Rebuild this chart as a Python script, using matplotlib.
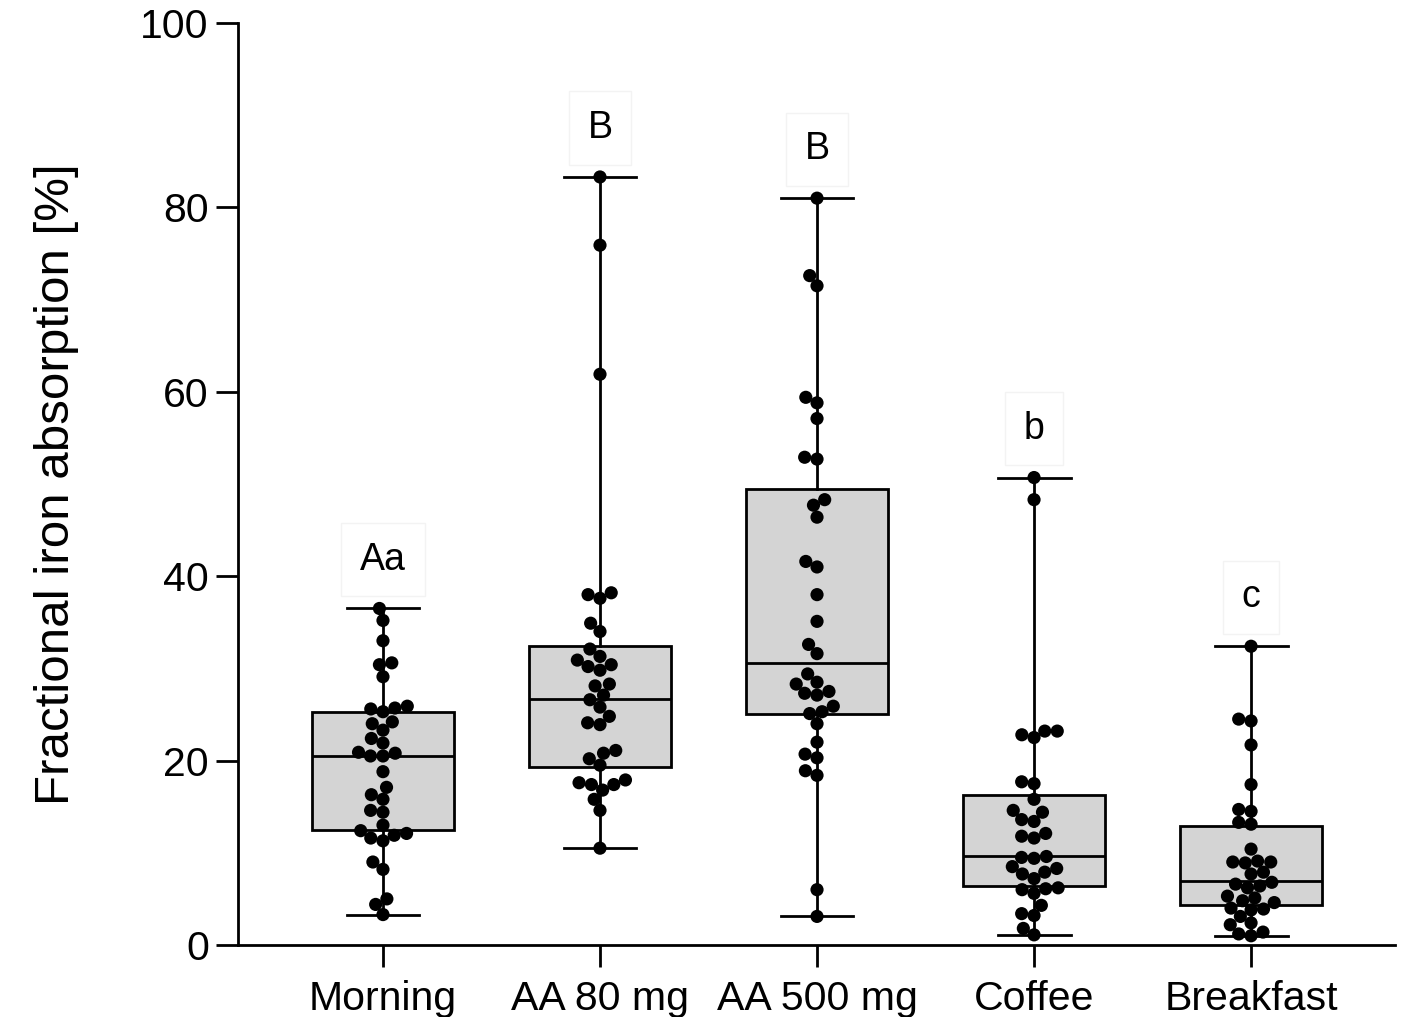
#!/usr/bin/env python3

# Fractional iron absorption per condition: min-max box plots with
# individual participants drawn as a beeswarm on top.

import numpy as np
import matplotlib
matplotlib.use('Agg')
import matplotlib.pyplot as plt

plt.rcParams['font.family'] = ['Liberation Sans', 'DejaVu Sans']

groups = ['Morning', 'AA 80 mg', 'AA 500 mg', 'Coffee', 'Breakfast']
letters = ['Aa', 'B', 'B', 'b', 'c']

morning = [36.5, 35.2, 33.0, 30.6, 30.4, 29.1, 25.9, 25.7, 25.6, 25.3, 24.2,
           24.0, 23.3, 22.4, 21.9, 20.9, 20.8, 20.5, 20.5, 18.8, 17.1, 16.3,
           15.8, 14.6, 14.4, 13.0, 12.4, 12.1, 11.9, 11.6, 11.3, 9.0, 8.2,
           5.0, 4.4, 3.3]
aa80 = [83.3, 75.9, 61.9, 38.2, 38.0, 37.6, 34.9, 34.0, 32.1, 31.3, 30.9,
        30.4, 30.2, 29.8, 28.3, 28.1, 27.1, 26.6, 25.8, 24.8, 24.1, 23.9,
        21.1, 20.8, 20.2, 19.5, 17.9, 17.6, 17.4, 17.4, 16.8, 15.8, 14.6,
        10.5]
aa500 = [81.0, 72.6, 71.5, 59.4, 58.8, 57.1, 52.9, 52.7, 48.3, 47.7, 46.4,
         41.6, 41.0, 38.0, 35.1, 32.6, 31.6, 29.4, 28.5, 28.3, 27.5, 27.3,
         27.1, 25.9, 25.3, 25.1, 24.0, 22.0, 20.7, 20.3, 18.9, 18.4, 6.0, 3.1]
coffee = [50.7, 48.3, 23.2, 23.2, 22.8, 22.5, 17.7, 17.5, 15.8, 14.6, 14.4,
          13.6, 13.4, 12.1, 11.8, 11.6, 9.6, 9.5, 9.4, 8.5, 8.3, 7.9, 7.7,
          7.2, 6.2, 6.1, 6.0, 5.6, 4.3, 3.4, 3.2, 1.8, 1.1]
breakfast = [32.4, 24.5, 24.3, 21.7, 17.4, 14.7, 14.5, 13.3, 13.1, 10.4, 9.1,
             9.0, 9.0, 8.9, 7.9, 7.7, 6.8, 6.6, 6.4, 6.2, 5.3, 5.1, 4.8, 4.6,
             4.0, 3.9, 3.8, 3.1, 2.4, 2.2, 1.4, 1.2, 1.0]

# quartiles as reported per condition
q1 = [12.5, 19.3, 25.1, 6.4, 4.3]
median = [20.5, 26.7, 30.6, 9.6, 6.9]
q3 = [25.3, 32.4, 49.5, 16.3, 12.9]

data = [morning, aa80, aa500, coffee, breakfast]

fig = plt.figure(figsize=(14.05, 10.17), dpi=100)
ax = fig.add_axes([0.1694, 0.0708, 0.8236, 0.9066])

xlim = (-0.668, 4.664)
ylim = (0, 100)
ax.set_xlim(*xlim)
ax.set_ylim(*ylim)

# Box plots, whiskers from min to max
stats = []
for i, vals in enumerate(data):
    stats.append({'med': median[i], 'q1': q1[i], 'q3': q3[i],
                  'whislo': min(vals), 'whishi': max(vals), 'fliers': []})

lw = 2.0
ax.bxp(stats, positions=range(len(groups)), widths=0.654, patch_artist=True,
       showfliers=False, manage_ticks=False,
       boxprops=dict(facecolor='#d4d4d4', edgecolor='black', linewidth=lw),
       medianprops=dict(color='black', linewidth=lw),
       whiskerprops=dict(color='black', linewidth=lw),
       capprops=dict(color='black', linewidth=lw), capwidths=0.336)

# Beeswarm placement in pixel space
ax_w = 0.8236 * 14.05 * 100
ax_h = 0.9066 * 10.17 * 100
px_x = ax_w / (xlim[1] - xlim[0])
px_y = ax_h / (ylim[1] - ylim[0])
dot = 12.5  # marker diameter in px


def swarm(vals):
    ys = np.sort(np.asarray(vals, dtype=float)) * px_y
    placed = []
    for y in ys:
        cands = [0.0]
        for (px, py) in placed:
            dy = y - py
            if abs(dy) < dot:
                dx = np.sqrt(dot ** 2 - dy ** 2)
                cands += [px + dx, px - dx]
        cands = sorted(set(cands), key=lambda c: (abs(c), c))
        for c in cands:
            ok = all((c - px) ** 2 + (y - py) ** 2 >= dot ** 2 - 1e-6
                     for (px, py) in placed)
            if ok:
                placed.append((c, y))
                break
    offs = np.array([p[0] for p in placed]) / px_x
    yv = np.array([p[1] for p in placed]) / px_y
    return offs, yv


for i, vals in enumerate(data):
    offs, yv = swarm(vals)
    ax.scatter(i + offs, yv, s=90, color='black', edgecolors='none',
               zorder=5, clip_on=False)

# Significance letters above each whisker
for i, vals in enumerate(data):
    ax.text(i, max(vals) + 5.3, letters[i], ha='center', va='center',
            fontsize=27, zorder=6,
            bbox=dict(boxstyle='square,pad=0.5', facecolor='white',
                      edgecolor='#f3f3f3', linewidth=1))

# Axes styling
for side in ['top', 'right']:
    ax.spines[side].set_visible(False)
for side in ['left', 'bottom']:
    ax.spines[side].set_linewidth(2.0)

ax.set_yticks([0, 20, 40, 60, 80, 100])
ax.set_xticks(range(len(groups)))
ax.set_xticklabels(groups)
ax.tick_params(axis='both', length=16, width=2.0, labelsize=29.5)
ax.tick_params(axis='y', pad=5)
ax.tick_params(axis='x', pad=9)

ax.set_ylabel('Fractional iron absorption [%]', fontsize=35.5, labelpad=44)

plt.savefig('out.png', dpi=100)
